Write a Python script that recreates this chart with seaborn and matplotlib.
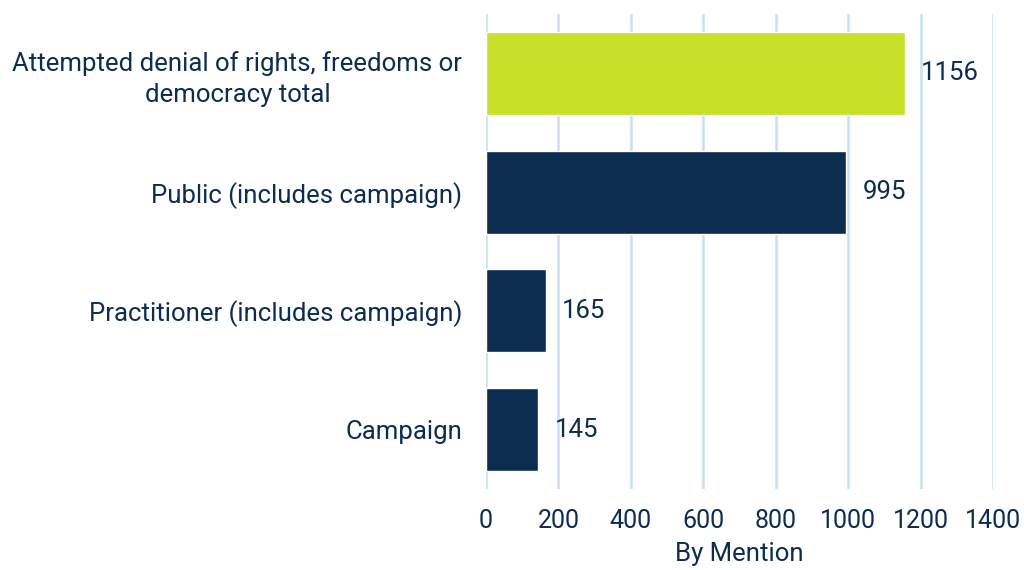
import pandas as pd
import matplotlib.pyplot as plt
import seaborn as sns

# chart data
categories = ["Attempted denial of rights, freedoms or\ndemocracy total",
              "Public (includes campaign)",
              "Practitioner (includes campaign)",
              "Campaign"]
mentions = [1156, 995, 165, 145]
bar_colors = ["#C8E02A", "#0C2D50", "#0C2D50", "#0C2D50"]
x_ticks = [0, 200, 400, 600, 800, 1000, 1200, 1400]

df = pd.DataFrame({"category": categories, "mentions": mentions})

sns.set_style("white")
plt.rcParams['font.family'] = ['Roboto', 'DejaVu Sans']
text_color = "#0C2D50"

fig = plt.figure(figsize=(10.24, 5.7), dpi=100)
ax = fig.add_axes([0.4746, 0.142, 0.4951, 0.8334])

sns.barplot(data=df, y="category", x="mentions", hue="category",
            palette=bar_colors, width=0.7, orient="h", legend=False,
            saturation=1, ax=ax)

ax.set_xlim(0, 1400)
ax.set_ylim(3.5, -0.5)
ax.set_xticks(x_ticks)
ax.grid(axis="x", color="#C9DFF5", linewidth=1.8)
ax.set_axisbelow(True)
for s in ax.spines.values():
    s.set_visible(False)
ax.tick_params(axis="y", length=0, labelsize=18.5, colors=text_color, pad=17)
ax.tick_params(axis="x", length=0, labelsize=18, colors=text_color, pad=14)
for lbl in ax.get_yticklabels():
    lbl.set_multialignment("center")
    lbl.set_linespacing(1.35)

for i, v in enumerate(mentions):
    ax.text(v + 45, i, str(v), va="center", ha="left", fontsize=18.5, color=text_color)

ax.set_xlabel("By Mention", fontsize=18.5, color=text_color, labelpad=7)
ax.set_ylabel("")

plt.savefig("out.png", dpi=100)
